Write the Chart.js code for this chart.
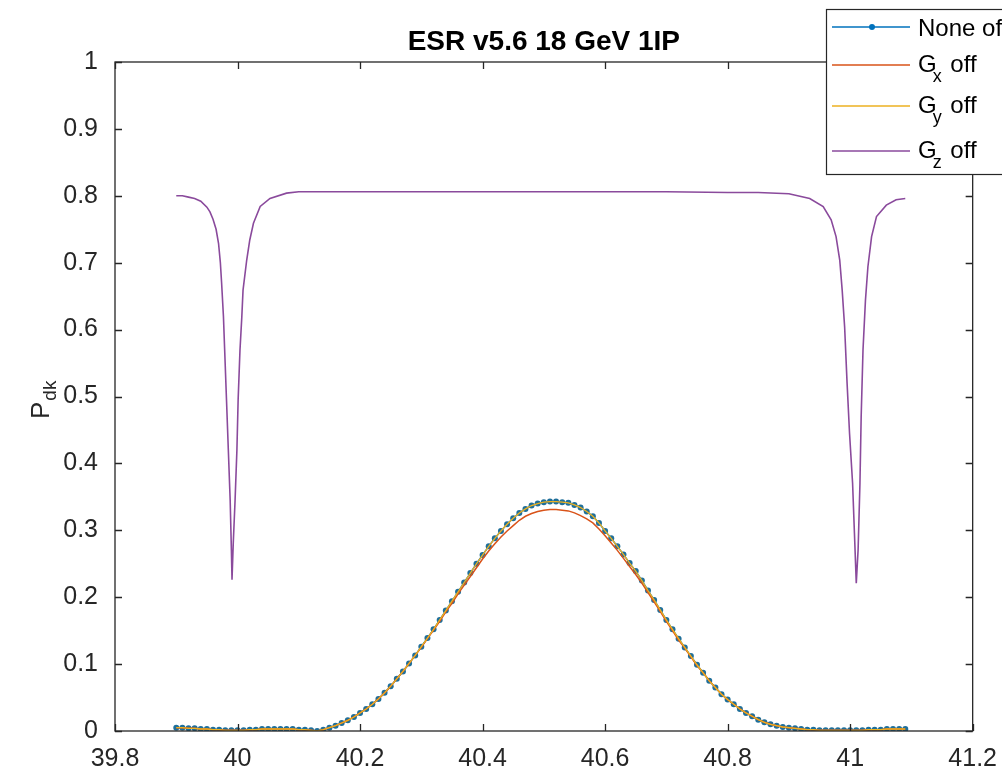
<!DOCTYPE html>
<html>
<head>
<meta charset="utf-8">
<title>ESR v5.6 18 GeV 1IP</title>
<script src="https://cdn.jsdelivr.net/npm/chart.js@4.4.1/dist/chart.umd.min.js"></script>
<style>
  html, body { margin: 0; padding: 0; background: #fff; }
  #wrap { width: 1002px; height: 772px; position: relative; }
</style>
</head>
<body>
<div id="wrap"><canvas id="pdkChart"></canvas></div>
<script>
// Tune (x) used for the three scans with markers
const tuneX = [
    39.90, 39.91, 39.92, 39.93, 39.94, 39.95, 39.96, 39.97, 39.98, 39.99,
    40.00, 40.01, 40.02, 40.03, 40.04, 40.05, 40.06, 40.07, 40.08, 40.09,
    40.10, 40.11, 40.12, 40.13, 40.14, 40.15, 40.16, 40.17, 40.18, 40.19,
    40.20, 40.21, 40.22, 40.23, 40.24, 40.25, 40.26, 40.27, 40.28, 40.29,
    40.30, 40.31, 40.32, 40.33, 40.34, 40.35, 40.36, 40.37, 40.38, 40.39,
    40.40, 40.41, 40.42, 40.43, 40.44, 40.45, 40.46, 40.47, 40.48, 40.49,
    40.50, 40.51, 40.52, 40.53, 40.54, 40.55, 40.56, 40.57, 40.58, 40.59,
    40.60, 40.61, 40.62, 40.63, 40.64, 40.65, 40.66, 40.67, 40.68, 40.69,
    40.70, 40.71, 40.72, 40.73, 40.74, 40.75, 40.76, 40.77, 40.78, 40.79,
    40.80, 40.81, 40.82, 40.83, 40.84, 40.85, 40.86, 40.87, 40.88, 40.89,
    40.90, 40.91, 40.92, 40.93, 40.94, 40.95, 40.96, 40.97, 40.98, 40.99,
    41.00, 41.01, 41.02, 41.03, 41.04, 41.05, 41.06, 41.07, 41.08, 41.09
];

// None off
const noneOff = [
    0.005, 0.005, 0.004, 0.004, 0.003, 0.003, 0.002, 0.002, 0.001, 0.001,
    0.001, 0.001, 0.002, 0.002, 0.003, 0.003, 0.003, 0.003, 0.003, 0.003,
    0.002, 0.002, 0.001, 0.000, 0.002, 0.005, 0.008, 0.012, 0.016, 0.021,
    0.027, 0.033, 0.040, 0.048, 0.057, 0.067, 0.078, 0.089, 0.101, 0.113,
    0.126, 0.139, 0.152, 0.166, 0.180, 0.194, 0.208, 0.222, 0.236, 0.250,
    0.263, 0.276, 0.288, 0.299, 0.309, 0.318, 0.326, 0.332, 0.337, 0.340,
    0.342, 0.343, 0.343, 0.342, 0.341, 0.338, 0.334, 0.328, 0.321, 0.311,
    0.299, 0.288, 0.276, 0.264, 0.251, 0.239, 0.225, 0.210, 0.196, 0.181,
    0.166, 0.152, 0.138, 0.125, 0.112, 0.099, 0.087, 0.075, 0.065, 0.055,
    0.047, 0.040, 0.033, 0.027, 0.022, 0.017, 0.013, 0.010, 0.008, 0.006,
    0.005, 0.004, 0.003, 0.002, 0.002, 0.001, 0.001, 0.001, 0.001, 0.001,
    0.001, 0.001, 0.001, 0.002, 0.002, 0.002, 0.003, 0.003, 0.003, 0.003
];

// Gx off (slightly lower near the peak)
const gxOff = [
    0.005, 0.005, 0.004, 0.004, 0.003, 0.003, 0.002, 0.002, 0.001, 0.001,
    0.001, 0.001, 0.002, 0.002, 0.003, 0.003, 0.003, 0.003, 0.003, 0.003,
    0.002, 0.002, 0.001, 0.000, 0.002, 0.005, 0.008, 0.012, 0.016, 0.021,
    0.027, 0.033, 0.040, 0.048, 0.057, 0.067, 0.078, 0.089, 0.101, 0.113,
    0.125, 0.138, 0.151, 0.164, 0.178, 0.191, 0.205, 0.218, 0.231, 0.244,
    0.257, 0.269, 0.280, 0.290, 0.299, 0.307, 0.315, 0.321, 0.325, 0.328,
    0.330, 0.331, 0.331, 0.330, 0.329, 0.326, 0.322, 0.317, 0.311, 0.302,
    0.292, 0.281, 0.270, 0.258, 0.246, 0.234, 0.221, 0.207, 0.193, 0.179,
    0.164, 0.150, 0.136, 0.124, 0.111, 0.098, 0.087, 0.075, 0.065, 0.055,
    0.047, 0.040, 0.033, 0.027, 0.022, 0.017, 0.013, 0.010, 0.008, 0.006,
    0.005, 0.004, 0.003, 0.002, 0.002, 0.001, 0.001, 0.001, 0.001, 0.001,
    0.001, 0.001, 0.001, 0.002, 0.002, 0.002, 0.003, 0.003, 0.003, 0.003
];

// Gy off (lies on top of "None off")
const gyOff = [
    0.005, 0.005, 0.004, 0.004, 0.003, 0.003, 0.002, 0.002, 0.001, 0.001,
    0.001, 0.001, 0.002, 0.002, 0.003, 0.003, 0.003, 0.003, 0.003, 0.003,
    0.002, 0.002, 0.001, 0.000, 0.002, 0.005, 0.008, 0.012, 0.016, 0.021,
    0.027, 0.033, 0.040, 0.048, 0.057, 0.067, 0.078, 0.089, 0.101, 0.113,
    0.126, 0.139, 0.152, 0.166, 0.180, 0.194, 0.208, 0.222, 0.236, 0.250,
    0.263, 0.276, 0.288, 0.299, 0.309, 0.318, 0.326, 0.332, 0.337, 0.340,
    0.342, 0.343, 0.343, 0.342, 0.341, 0.338, 0.334, 0.328, 0.321, 0.311,
    0.299, 0.288, 0.276, 0.264, 0.251, 0.239, 0.225, 0.210, 0.196, 0.181,
    0.166, 0.152, 0.138, 0.125, 0.112, 0.099, 0.087, 0.075, 0.065, 0.055,
    0.047, 0.040, 0.033, 0.027, 0.022, 0.017, 0.013, 0.010, 0.008, 0.006,
    0.005, 0.004, 0.003, 0.002, 0.002, 0.001, 0.001, 0.001, 0.001, 0.001,
    0.001, 0.001, 0.001, 0.002, 0.002, 0.002, 0.003, 0.003, 0.003, 0.003
];

// Gz off: finer sampling around the two resonance dips
const gzX = [
    39.900, 39.910, 39.920, 39.930, 39.940, 39.950, 39.955, 39.960, 39.965, 39.969,
    39.972, 39.974, 39.977, 39.979, 39.982, 39.985, 39.988, 39.990, 39.991, 39.993,
    39.996, 39.999, 40.001, 40.004, 40.007, 40.009, 40.015, 40.020, 40.026, 40.037,
    40.053, 40.080, 40.100, 40.150, 40.200, 40.300, 40.400, 40.500, 40.600, 40.700,
    40.800, 40.850, 40.900, 40.934, 40.956, 40.969, 40.977, 40.983, 40.987, 40.991,
    40.995, 40.999, 41.004, 41.007, 41.010, 41.013, 41.016, 41.018, 41.021, 41.025,
    41.029, 41.035, 41.043, 41.059, 41.075, 41.090
];
const gzOff = [
    0.800, 0.800, 0.798, 0.796, 0.792, 0.783, 0.776, 0.765, 0.750, 0.729,
    0.700, 0.670, 0.620, 0.570, 0.495, 0.420, 0.345, 0.270, 0.226, 0.280,
    0.345, 0.420, 0.495, 0.569, 0.619, 0.659, 0.704, 0.734, 0.759, 0.784,
    0.796, 0.804, 0.806, 0.806, 0.806, 0.806, 0.806, 0.806, 0.806, 0.806,
    0.805, 0.805, 0.803, 0.796, 0.784, 0.764, 0.739, 0.704, 0.659, 0.604,
    0.520, 0.445, 0.370, 0.296, 0.221, 0.271, 0.370, 0.470, 0.570, 0.644,
    0.694, 0.739, 0.769, 0.786, 0.794, 0.796
];

const xTicks = [39.8, 40, 40.2, 40.4, 40.6, 40.8, 41, 41.2];
const xTickLabels = ['39.8', '40', '40.2', '40.4', '40.6', '40.8', '41', '41.2'];
const yTicks = [0, 0.1, 0.2, 0.3, 0.4, 0.5, 0.6, 0.7, 0.8, 0.9, 1];
const yTickLabels = ['0', '0.1', '0.2', '0.3', '0.4', '0.5', '0.6', '0.7', '0.8', '0.9', '1'];

const seriesNames = ['None off', 'G|x| off', 'G|y| off', 'G|z| off'];

const axisColor = '#262626';
const colors = ['#0072BD', '#D95319', '#EDB120', '#8A4A9C'];
const fontFamily = "'Liberation Sans', Arial, Helvetica, sans-serif";

function toPoints(xs, ys) {
    return xs.map((x, i) => ({ x: x, y: ys[i] }));
}

function labelFor(value, ticks, labels) {
    const i = ticks.findIndex(t => Math.abs(t - value) < 1e-6);
    return i >= 0 ? labels[i] : '';
}

// MATLAB style box with inward ticks
const boxAxes = {
    id: 'boxAxes',
    afterDatasetsDraw(chart) {
        const ctx = chart.ctx;
        const a = chart.chartArea;
        const xs = chart.scales.x;
        const ys = chart.scales.y;
        const tick = 7;
        ctx.save();
        ctx.strokeStyle = axisColor;
        ctx.lineWidth = 1.3;
        ctx.strokeRect(a.left, a.top, a.right - a.left, a.bottom - a.top);
        ctx.beginPath();
        xTicks.forEach(v => {
            const px = Math.round(xs.getPixelForValue(v)) + 0.5;
            ctx.moveTo(px, a.bottom); ctx.lineTo(px, a.bottom - tick);
            ctx.moveTo(px, a.top); ctx.lineTo(px, a.top + tick);
        });
        yTicks.forEach(v => {
            const py = Math.round(ys.getPixelForValue(v)) + 0.5;
            ctx.moveTo(a.left, py); ctx.lineTo(a.left + tick, py);
            ctx.moveTo(a.right, py); ctx.lineTo(a.right - tick, py);
        });
        ctx.stroke();
        ctx.restore();
    },
    afterDraw(chart) {
        const ctx = chart.ctx;
        const a = chart.chartArea;
        ctx.save();

        // title
        ctx.fillStyle = '#000';
        ctx.font = 'bold 28px ' + fontFamily;
        ctx.textAlign = 'center';
        ctx.textBaseline = 'alphabetic';
        ctx.fillText('ESR v5.6 18 GeV 1IP', (a.left + a.right) / 2, 50);

        // y axis label P_dk
        ctx.save();
        ctx.translate(49, 419);
        ctx.rotate(-Math.PI / 2);
        ctx.fillStyle = axisColor;
        ctx.textAlign = 'left';
        ctx.font = '26px ' + fontFamily;
        ctx.fillText('P', 0, 0);
        const pw = ctx.measureText('P').width;
        ctx.font = '19px ' + fontFamily;
        ctx.fillText('dk', pw + 1, 7);
        ctx.restore();

        // legend
        const lx = 826.5, ly = 9.5;
        ctx.fillStyle = '#fff';
        ctx.fillRect(lx, ly, 200, 165);
        ctx.strokeStyle = axisColor;
        ctx.lineWidth = 1.2;
        ctx.strokeRect(lx, ly, 200, 165);

        const lineY = [27, 65, 106, 151];
        const baseY = [36, 72, 113, 158];
        seriesNames.forEach((name, i) => {
            ctx.strokeStyle = colors[i];
            ctx.lineWidth = 1.5;
            ctx.beginPath();
            ctx.moveTo(832, lineY[i]);
            ctx.lineTo(910, lineY[i]);
            ctx.stroke();
            if (i === 0) {
                ctx.fillStyle = colors[i];
                ctx.beginPath();
                ctx.arc(872, lineY[i], 3, 0, Math.PI * 2);
                ctx.fill();
            }
            ctx.fillStyle = '#000';
            ctx.textAlign = 'left';
            const parts = name.split('|');
            let x = 918;
            ctx.font = '24px ' + fontFamily;
            ctx.fillText(parts[0], x, baseY[i]);
            if (parts.length > 1) {
                x += ctx.measureText(parts[0]).width - 4;
                ctx.font = '18px ' + fontFamily;
                ctx.fillText(parts[1], x, baseY[i] + 10);
                x += ctx.measureText(parts[1]).width + 2;
                ctx.font = '24px ' + fontFamily;
                ctx.fillText(parts[2], x, baseY[i]);
            }
        });
        ctx.restore();
    }
};

Chart.defaults.font.family = fontFamily;
Chart.defaults.color = axisColor;

const ctx = document.getElementById('pdkChart').getContext('2d');
new Chart(ctx, {
    type: 'scatter',
    data: {
        datasets: [
            {
                label: seriesNames[0],
                data: toPoints(tuneX, noneOff),
                showLine: true,
                borderColor: colors[0],
                backgroundColor: '#1f6f9a',
                borderWidth: 1.5,
                pointRadius: 3,
                pointBorderWidth: 0,
                order: 4
            },
            {
                label: seriesNames[1],
                data: toPoints(tuneX, gxOff),
                showLine: true,
                borderColor: colors[1],
                borderWidth: 1.5,
                pointRadius: 0,
                order: 3
            },
            {
                label: seriesNames[2],
                data: toPoints(tuneX, gyOff),
                showLine: true,
                borderColor: colors[2],
                borderWidth: 1.3,
                pointRadius: 0,
                order: 2
            },
            {
                label: seriesNames[3],
                data: toPoints(gzX, gzOff),
                showLine: true,
                borderColor: colors[3],
                borderWidth: 1.6,
                pointRadius: 0,
                order: 1
            }
        ]
    },
    options: {
        responsive: true,
        maintainAspectRatio: false,
        animation: false,
        events: [],
        layout: {
            padding: { top: 62, right: 29, left: 0, bottom: 0 }
        },
        plugins: {
            legend: { display: false },
            title: { display: false },
            tooltip: { enabled: false }
        },
        scales: {
            x: {
                type: 'linear',
                min: 39.8,
                max: 41.2,
                grid: { display: false },
                border: { display: false },
                afterBuildTicks: scale => {
                    scale.ticks = xTicks.map(v => ({ value: v }));
                },
                afterFit: scale => { scale.height = 41; },
                ticks: {
                    padding: 5,
                    maxRotation: 0,
                    autoSkip: false,
                    color: axisColor,
                    font: { size: 25 },
                    callback: v => labelFor(v, xTicks, xTickLabels)
                }
            },
            y: {
                type: 'linear',
                min: 0,
                max: 1,
                grid: { display: false },
                border: { display: false },
                afterBuildTicks: scale => {
                    scale.ticks = yTicks.map(v => ({ value: v }));
                },
                afterFit: scale => { scale.width = 115; },
                ticks: {
                    padding: 9,
                    autoSkip: false,
                    color: axisColor,
                    font: { size: 25 },
                    callback: v => labelFor(v, yTicks, yTickLabels)
                }
            }
        }
    },
    plugins: [boxAxes]
});
</script>
</body>
</html>
